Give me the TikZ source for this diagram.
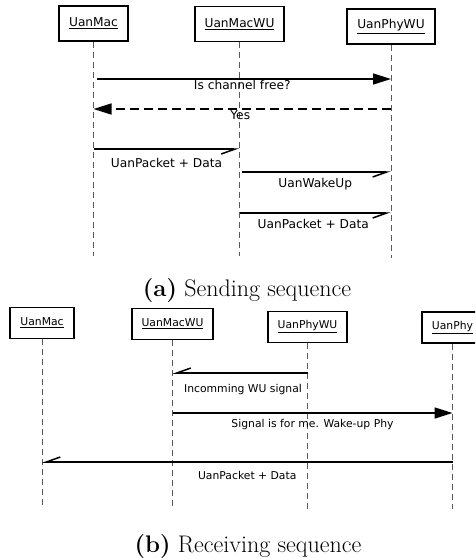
\documentclass[tikz,border=0pt]{standalone}
\usepackage{fontspec}
\newfontfamily\dvsans{DejaVu Sans}
\usetikzlibrary{arrows.meta}
\begin{document}
\begin{tikzpicture}[x=1pt,y=-1pt,
  obj/.style={draw, line width=1.9pt, inner xsep=10pt, inner ysep=0pt, fill=white},
  objA/.style={obj, minimum height=35pt, font=\dvsans\fontsize{12.2}{14}\selectfont},
  objB/.style={obj, minimum height=31pt, font=\dvsans\fontsize{10.8}{13}\selectfont},
  lifeline/.style={draw=black!65, line width=0.9pt, dash pattern=on 6pt off 4pt},
  msg/.style={line width=1.5pt},
  call/.style={msg, -{Triangle[length=18pt,width=11pt]}},
  reply/.style={msg, dash pattern=on 9pt off 5pt, -{Triangle[length=18pt,width=11pt]}},
  async/.style={msg, -{Straight Barb[harpoon,swap,length=14pt,width=10pt,line width=1.5pt]}},
  lblA/.style={inner sep=0pt, anchor=base, font=\dvsans\fontsize{12.2}{14}\selectfont},
  lblB/.style={inner sep=0pt, anchor=base, font=\dvsans\fontsize{10.8}{13}\selectfont},
  caption/.style={inner sep=0pt, anchor=base, font=\fontsize{24}{28}\selectfont}]

\useasboundingbox[fill=white] (0,0) rectangle (475,558);
\clip (0,0) rectangle (475,558);

% ---------- (a) sending sequence ----------
\node[objA] (a1) at (93.5,23.5) {\underline{UanMac}};
\node[objA] (a2) at (239.5,24) {\underline{UanMacWU}};
\node[objA] (a3) at (391,26.5) {\underline{UanPhyWU}};

\coordinate (a1e) at (a1 |- 0,256);
\coordinate (a2e) at (a2 |- 0,256);
\coordinate (a3e) at (a3 |- 0,258);

\draw[lifeline] (a1) -- (a1e);
\draw[lifeline] (a2) -- (a2e);
\draw[lifeline] (a3) -- (a3e);

\draw[call, shorten <=3pt] (a1 |- 0,79) -- (a3 |- 0,79)
  node[lblA, midway, yshift=-10pt] {Is channel free?};
\draw[reply] (a3 |- 0,109) -- (a1 |- 0,109)
  node[lblA, midway, yshift=-10pt, xshift=-2pt] {Yes};
\draw[async] (a1 |- 0,149) -- (a2 |- 0,149)
  node[lblA, midway, yshift=-18pt] {UanPacket + Data};
\draw[async, shorten <=2pt] (a2 |- 0,172) -- (a3 |- 0,172)
  node[lblA, midway, yshift=-15pt] {UanWakeUp};
\draw[async] (a2 |- 0,213) -- (a3 |- 0,213)
  node[lblA, midway, yshift=-15pt, xshift=-2pt] {UanPacket + Data};

\node[caption] (capA) at (247,296) {\textbf{(a)} Sending sequence};

% ---------- (b) receiving sequence ----------
\node[objB] (b1) at (42,323) {\underline{UanMac}};
\node[objB] (b2) at (172.5,324) {\underline{UanMacWU}};
\node[objB] (b3) at (307.5,327) {\underline{UanPhyWU}};
\node[objB] (b4) at (452.5,327.5) {\underline{UanPhy}};

\coordinate (b1e) at (b1 |- 0,509);
\coordinate (b2e) at (b2 |- 0,509);
\coordinate (b3e) at (b3 |- 0,509);
\coordinate (b4e) at (b4 |- 0,509);

\draw[lifeline] (b1) -- (b1e);
\draw[lifeline] (b2) -- (b2e);
\draw[lifeline] (b3) -- (b3e);
\draw[lifeline] (b4) -- (b4e);

\draw[async] (b3 |- 0,373) -- (b2 |- 0,373)
  node[lblB, midway, yshift=-19pt, xshift=3pt] {Incomming WU signal};
\draw[call] (b2 |- 0,413) -- (b4 |- 0,413)
  node[lblB, midway, yshift=-14pt] {Signal is for me. Wake-up Phy};
\draw[async] (b4 |- 0,462) -- (b1 |- 0,462)
  node[lblB, midway, yshift=-17pt] {UanPacket + Data};

\node[caption] (capB) at (248,552) {\textbf{(b)} Receiving sequence};
\end{tikzpicture}
\end{document}
